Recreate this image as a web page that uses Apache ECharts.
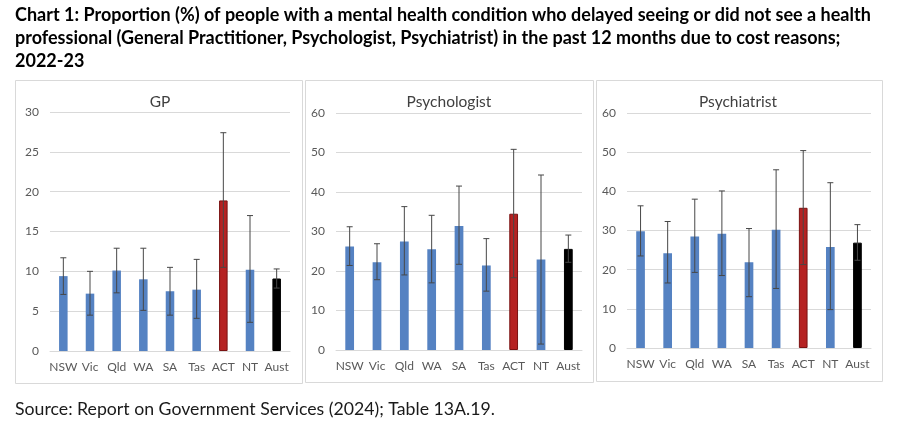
<!DOCTYPE html>
<html>
<head>
    <meta charset="utf-8">
    <title>Chart 1</title>
    <script src="https://cdn.jsdelivr.net/npm/echarts@6/dist/echarts.min.js"></script>
    <style>
        html, body { margin: 0; padding: 0; background: #fff; }
        #main { width: 900px; height: 427px; }
    </style>
</head>
<body>
<div id="main"></div>
<script type="text/javascript">
    // categories
    var states = ['NSW', 'Vic', 'Qld', 'WA', 'SA', 'Tas', 'ACT', 'NT', 'Aust'];

    // GP (%), with 95% CI ends
    var gpValue = [9.4, 7.2, 10.1, 9.0, 7.5, 7.7, 18.9, 10.2, 9.1];
    var gpLow   = [7.1, 4.5, 7.3, 5.1, 4.5, 4.1, 10.5, 3.6, 7.9];
    var gpHigh  = [11.7, 10.0, 12.9, 12.9, 10.5, 11.5, 27.4, 17.0, 10.3];

    // Psychologist (%)
    var psyValue = [26.2, 22.2, 27.5, 25.5, 31.4, 21.4, 34.5, 22.9, 25.6];
    var psyLow   = [21.4, 17.8, 19.0, 17.0, 21.7, 14.9, 18.3, 1.5, 22.2];
    var psyHigh  = [31.2, 26.9, 36.3, 34.1, 41.5, 28.2, 50.8, 44.3, 29.1];

    // Psychiatrist (%)
    var chiValue = [29.8, 24.2, 28.5, 29.2, 21.9, 30.2, 35.8, 25.8, 26.9];
    var chiLow   = [23.5, 16.6, 19.3, 18.5, 13.1, 15.2, 21.3, 9.8, 22.4];
    var chiHigh  = [36.3, 32.3, 38.0, 40.1, 30.5, 45.5, 50.4, 42.2, 31.5];

    var panelTitles = ['GP', 'Psychologist', 'Psychiatrist'];
    var titleLines = [
        'Chart 1: Proportion (%) of people with a mental health condition who delayed seeing or did not see a health',
        'professional (General Practitioner, Psychologist, Psychiatrist) in the past 12 months due to cost reasons;',
        '2022-23'
    ];
    var sourceText = 'Source: Report on Government Services (2024); Table 13A.19.';

    var blue = '#5582c2', red = '#b52222', black = '#000000';
    var font = 'Lato, "Open Sans", sans-serif';

    function barColors(values) {
        return values.map(function (v, i) {
            var c = states[i] === 'ACT' ? red : (states[i] === 'Aust' ? black : blue);
            return {
                value: v,
                itemStyle: {
                    color: c,
                    borderColor: states[i] === 'ACT' ? '#7a1212' : (states[i] === 'Aust' ? '#000' : c),
                    borderWidth: states[i] === 'ACT' || states[i] === 'Aust' ? 1 : 0
                }
            };
        });
    }

    function ciData(low, high) {
        return low.map(function (l, i) { return [i, l, high[i]]; });
    }

    function renderErr(params, api) {
        var x = api.value(0);
        var lo = api.coord([x, api.value(1)]);
        var hi = api.coord([x, api.value(2)]);
        var cap = 3;
        var style = { stroke: '#474747', lineWidth: 1 };
        return {
            type: 'group',
            children: [
                { type: 'line', shape: { x1: hi[0], y1: hi[1], x2: lo[0], y2: lo[1] }, style: style },
                { type: 'line', shape: { x1: hi[0] - cap, y1: hi[1], x2: hi[0] + cap, y2: hi[1] }, style: style },
                { type: 'line', shape: { x1: lo[0] - cap, y1: lo[1], x2: lo[0] + cap, y2: lo[1] }, style: style }
            ]
        };
    }

    var grids = [
        { left: 50, right: 610, top: 112, bottom: 76 },
        { left: 336, right: 318, top: 113, bottom: 77 },
        { left: 627, right: 29, top: 113, bottom: 79 }
    ];
    var yMax = [30, 60, 60];
    var yStep = [5, 10, 10];
    var values = [gpValue, psyValue, chiValue];
    var lows = [gpLow, psyLow, chiLow];
    var highs = [gpHigh, psyHigh, chiHigh];

    var xAxes = [], yAxes = [], series = [];
    for (var k = 0; k < 3; k++) {
        xAxes.push({
            type: 'category',
            gridIndex: k,
            data: states,
            axisTick: { show: false },
            axisLine: { lineStyle: { color: '#d9d9d9' } },
            axisLabel: { color: '#595959', fontSize: 12, fontFamily: font, margin: 10, interval: 0 }
        });
        yAxes.push({
            type: 'value',
            gridIndex: k,
            min: 0,
            max: yMax[k],
            interval: yStep[k],
            axisLine: { show: false },
            axisTick: { show: false },
            splitLine: { lineStyle: { color: '#d9d9d9', width: 1 } },
            axisLabel: { color: '#595959', fontSize: 12, fontFamily: font, margin: 11 }
        });
        series.push({
            type: 'bar',
            xAxisIndex: k,
            yAxisIndex: k,
            barWidth: '32%',
            data: barColors(values[k]),
            silent: true
        });
        series.push({
            type: 'custom',
            xAxisIndex: k,
            yAxisIndex: k,
            renderItem: renderErr,
            encode: { x: 0, y: [1, 2] },
            data: ciData(lows[k], highs[k]),
            z: 5,
            silent: true
        });
    }

    var graphics = [];
    // panel borders
    var boxes = [[15, 80, 287, 303], [305, 80, 288, 302], [596, 80, 286, 301]];
    boxes.forEach(function (b) {
        graphics.push({
            type: 'rect',
            shape: { x: b[0] + 0.5, y: b[1] + 0.5, width: b[2], height: b[3] },
            style: { fill: 'none', stroke: '#d9d9d9', lineWidth: 1 },
            z: -1
        });
    });
    // panel titles
    var titleX = [160, 449, 738];
    panelTitles.forEach(function (t, i) {
        graphics.push({
            type: 'text',
            x: titleX[i], y: 102,
            style: { text: t, fill: '#404040', font: '15.5px ' + font, textAlign: 'center', textVerticalAlign: 'middle' }
        });
    });
    // chart heading
    titleLines.forEach(function (t, i) {
        graphics.push({
            type: 'text',
            x: 15, y: 15 + i * 23,
            style: { text: t, fill: '#000', font: 'bold 18px ' + font, textVerticalAlign: 'middle' }
        });
    });
    graphics.push({
        type: 'text',
        x: 15, y: 409,
        style: { text: sourceText, fill: '#1a1a1a', font: '17.7px ' + font, textVerticalAlign: 'middle' }
    });

    var myChart = echarts.init(document.getElementById('main'));
    var option = {
        animation: false,
        backgroundColor: '#fff',
        grid: grids,
        xAxis: xAxes,
        yAxis: yAxes,
        series: series,
        graphic: graphics
    };
    myChart.setOption(option);
</script>
</body>
</html>
